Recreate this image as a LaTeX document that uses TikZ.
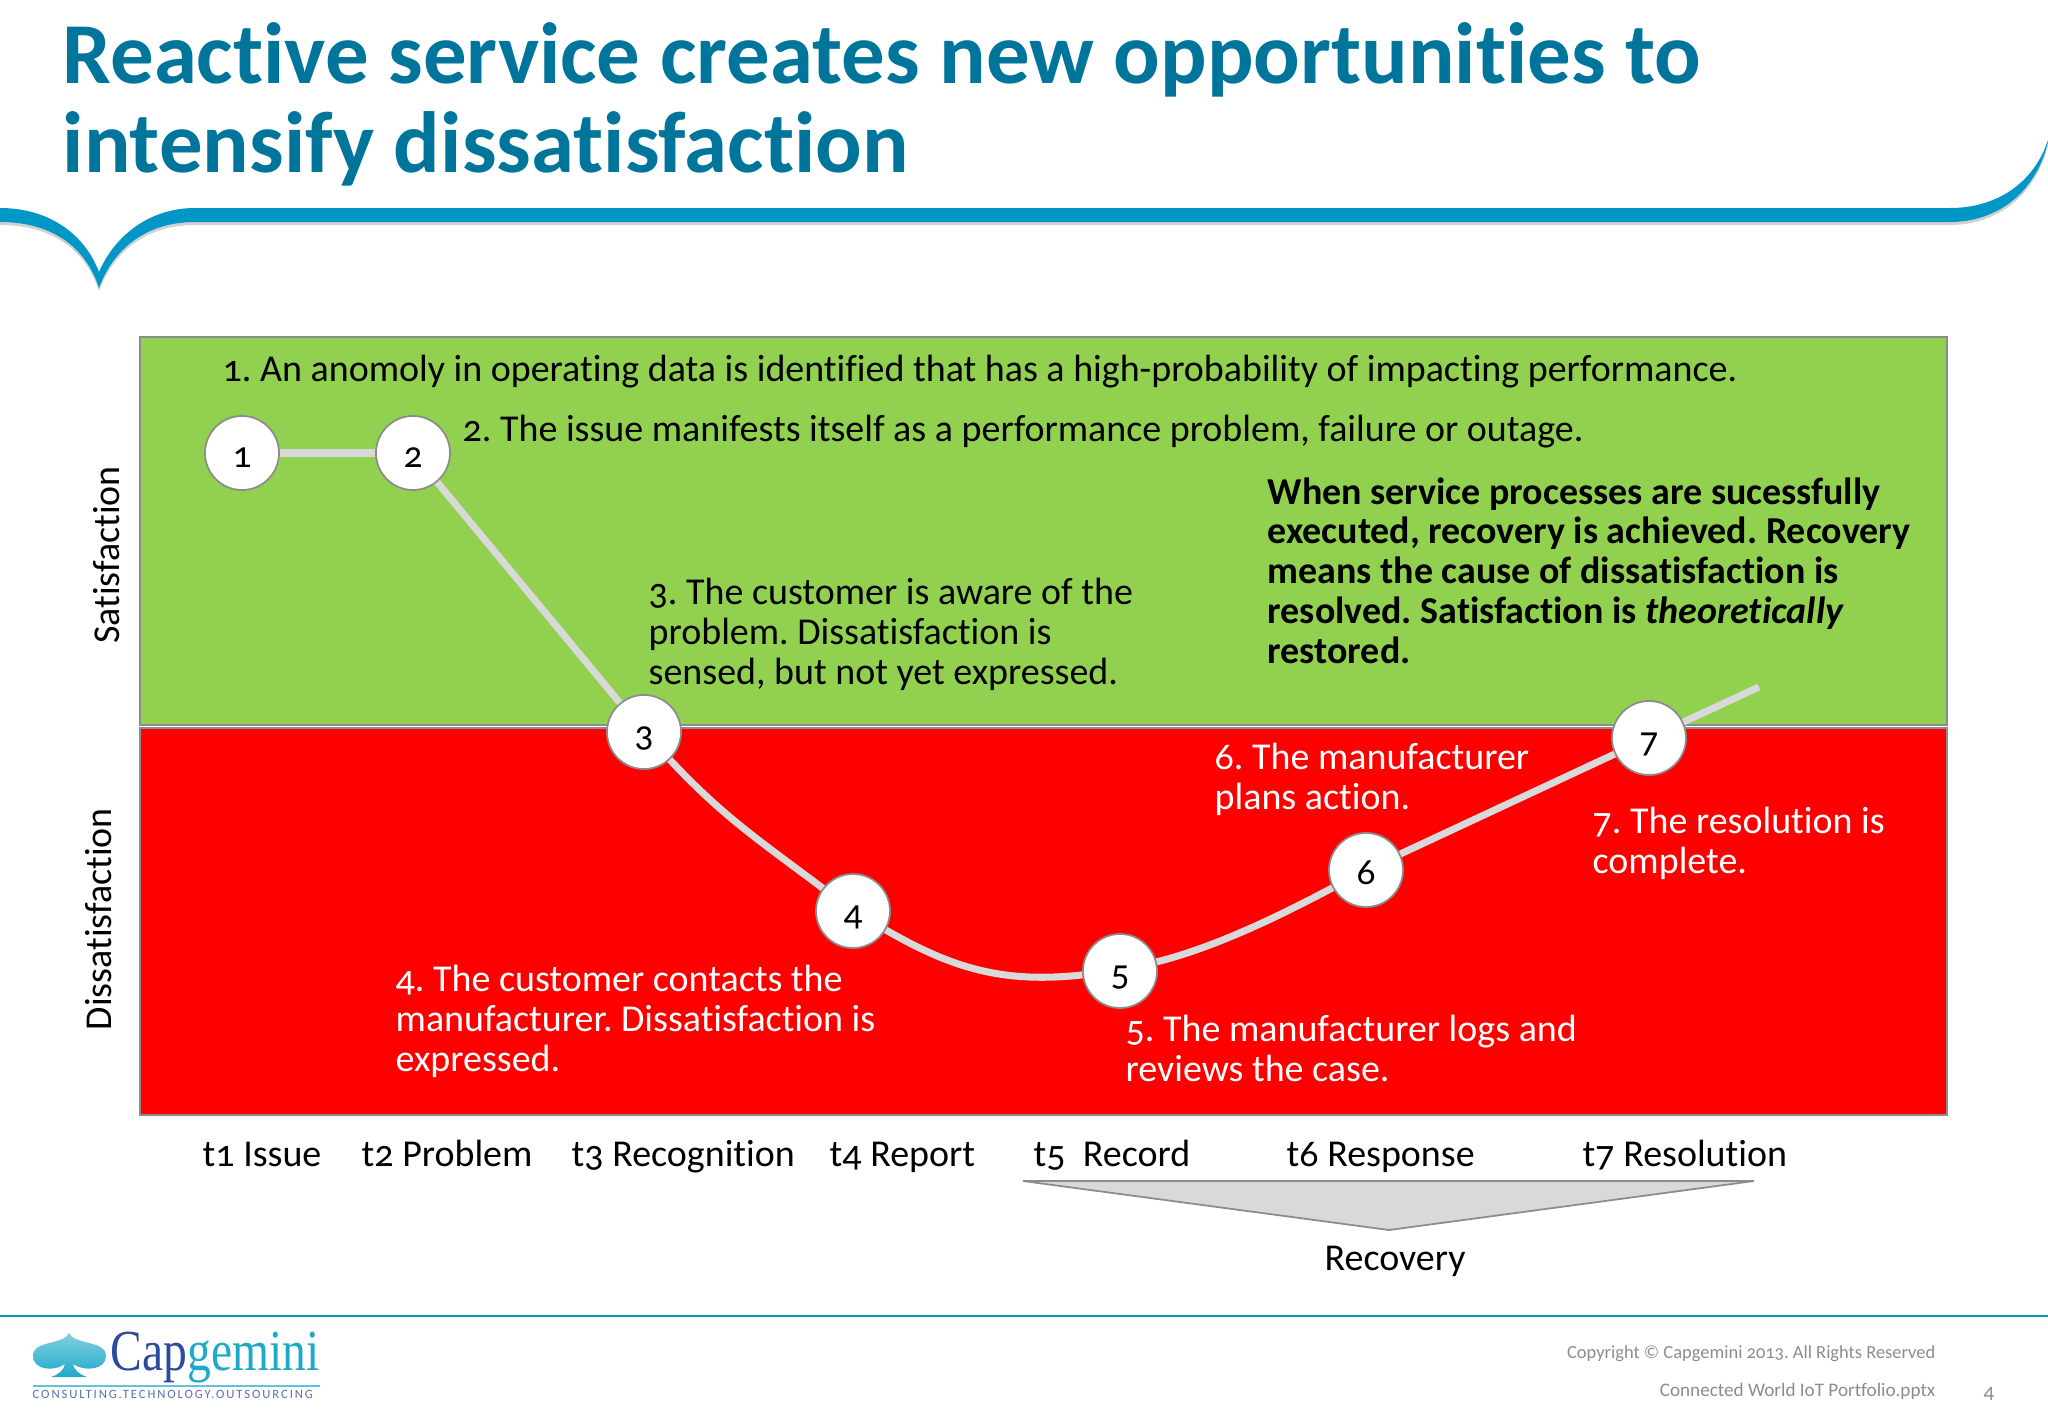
\documentclass[tikz,border=0pt]{standalone}
\usepackage{fontspec}
\setmainfont{Carlito}[Numbers=OldStyle, Ligatures=NoCommon]
\newfontfamily\logofont{Liberation Serif}[FakeStretch=0.82]
\newfontfamily\taglinefont{Carlito}[LetterSpace=15, Ligatures=NoCommon]
\usepackage{xcolor}
\usetikzlibrary{positioning}
\definecolor{titleblue}{HTML}{00759B}
\definecolor{bandblue}{HTML}{0097C7}
\definecolor{satgreen}{HTML}{92D050}
\definecolor{curvegrey}{HTML}{D9D9D9}
\definecolor{edgegrey}{HTML}{8C8C8C}
\definecolor{logodark}{HTML}{2E4A9E}
\definecolor{logolight}{HTML}{1FA9C9}
\tikzset{
    stage/.style={circle, draw=edgegrey, line width=0.5pt, fill=white, minimum size=74*0.2845pt, inner sep=0pt, text height=0.85em, text depth=0pt, font=\fontsize{10.6}{12}\selectfont},
    curve/.style={draw=curvegrey, line width=2pt},
    zone/.style={draw=edgegrey, line width=0.6pt},
    note/.style={anchor=base west, align=left, inner sep=0pt, font=\fontsize{10.8}{11.3}\selectfont},
    footer/.style={anchor=base east, inner sep=0pt, text=edgegrey, font=\fontsize{5.4}{7}\selectfont},
}
\frenchspacing
\begin{document}
\begin{tikzpicture}[x=0.01cm, y=-0.01cm]
    \useasboundingbox (0,0) rectangle (2048,1418);
    \def\bandpath{(0,208) .. controls (50,208) and (85,235) .. (99,272) .. controls (115,235) and (150,208) .. (195,208) -- (1950,208) .. controls (2000,208) and (2035,180) .. (2048,140) -- (2048,142) .. controls (2035,195) and (1995,222) .. (1950,222) -- (195,222) .. controls (150,222) and (115,245) .. (99,288) .. controls (85,245) and (50,222) .. (0,222) -- cycle}
    \fill[black, opacity=0.18, yshift=-0.03cm] \bandpath;
    \fill[bandblue] \bandpath;
    \node[anchor=base west, align=left, inner sep=0pt, text=titleblue, font=\fontsize{24.7}{25.3}\bfseries\selectfont] (title) at (62,172) {Reactive service creates new opportunities to\\intensify dissatisfaction};

    \fill[satgreen] (140,337) rectangle (1947,725);
    \draw[zone] (140,337) rectangle (1947,725);
    \fill[red] (140,728) rectangle (1947,1115);
    \draw[zone] (140,728) rectangle (1947,1115);
    \node[rotate=90, inner sep=0pt, font=\fontsize{10.8}{12}\selectfont] (sat) at (107,555) {Satisfaction};
    \node[rotate=90, inner sep=0pt, font=\fontsize{10.8}{12}\selectfont] (dis) at (99,919) {Dissatisfaction};

    \node[stage] (c1) at (242,453) {1};
    \node[stage] (c2) at (413,453) {2};
    \node[stage] (c3) at (644,732) {3};
    \node[stage] (c4) at (853,911) {4};
    \node[stage] (c5) at (1120,971) {5};
    \node[stage] (c6) at (1366,870) {6};
    \node[stage] (c7) at (1649,738) {7};
    \coordinate (end) at (1759,687);
    \draw[curve] (c1) -- (c2);
    \draw[curve] (c2) -- (c3);
    \draw[curve] (c3) to[out=-47, in=143] (c4);
    \draw[curve] (c4) to[out=-30, in=186] (c5);
    \draw[curve] (c5) to[out=14, in=208, looseness=0.8] (c6);
    \draw[curve] (c6) -- (c7);
    \draw[curve] (c7) -- (end);

    \node[note] (n1) at (222,381) {1. An anomoly in operating data is identified that has a high-probability of impacting performance.};
    \node[note] (n2) at (462,441) {2. The issue manifests itself as a performance problem, failure or outage.};
    \node[note] (n3) at (648,684) {3. The customer is aware of the\\problem. Dissatisfaction is\\sensed, but not yet expressed.};
    \node[note, font=\fontsize{10.8}{11.3}\bfseries\selectfont] (good) at (1267,663) {When service processes are sucessfully\\executed, recovery is achieved. Recovery\\means the cause of dissatisfaction is\\resolved. Satisfaction is \textit{theoretically}\\restored.};
    \node[note, text=white] (n4) at (395,1071) {4. The customer contacts the\\manufacturer. Dissatisfaction is\\expressed.};
    \node[note, text=white] (n5) at (1125,1081) {5. The manufacturer logs and\\reviews the case.};
    \node[note, text=white] (n6) at (1214,809) {6. The manufacturer\\plans action.};
    \node[note, text=white] (n7) at (1592,873) {7. The resolution is\\complete.};

    \node[note] (t1) at (202,1166) {t1 Issue};
    \node[note] (t2) at (361,1166) {t2 Problem};
    \node[note] (t3) at (571,1166) {t3 Recognition};
    \node[note] (t4) at (829,1166) {t4 Report};
    \node[note] (t5) at (1033,1166) {t5\ \ Record};
    \node[note] (t6) at (1286,1166) {t6 Response};
    \node[note] (t7) at (1582,1166) {t7 Resolution};
    \draw[edgegrey, fill=curvegrey, line width=0.5pt] (1023,1181) -- (1754,1181) -- (1389,1230) -- cycle;
    \node[note] (rec) at (1324,1270) {Recovery};

    \draw[bandblue, line width=0.5pt] (0,1316) -- (2048,1316);
    \shade[top color=logolight!55, bottom color=logolight] (69,1333) .. controls (74,1345) and (106,1340) .. (106,1356) .. controls (106,1370) and (84,1372) .. (73,1364) .. controls (74,1370) and (80,1375) .. (87,1377) -- (51,1377) .. controls (58,1375) and (64,1370) .. (65,1364) .. controls (54,1372) and (33,1370) .. (33,1356) .. controls (33,1340) and (64,1345) .. (69,1333) -- cycle;
    \node[anchor=base west, inner sep=0pt, font=\logofont\fontsize{16.5}{17}\selectfont] (logo) at (110,1370) {\textcolor{logodark}{Cap}\textcolor{logolight}{gemini}};
    \draw[logolight!70, line width=0.4pt] (33,1386) -- (320,1386);
    \node[anchor=base west, inner sep=0pt, text=logodark!80, font=\taglinefont\fontsize{3.6}{4}\selectfont] (tag) at (32,1398) {CONSULTING.TECHNOLOGY.OUTSOURCING};

    \node[footer, font=\fontsize{5.25}{7}\selectfont] (copy) at (1936,1358) {Copyright © Capgemini 2013. All Rights Reserved};
    \node[footer, font=\fontsize{5.45}{7}\selectfont] (file) at (1936,1396) {Connected World IoT Portfolio.pptx};
    \node[footer, font=\fontsize{6}{7}\selectfont] (page) at (1995,1398) {4};
\end{tikzpicture}
\end{document}
